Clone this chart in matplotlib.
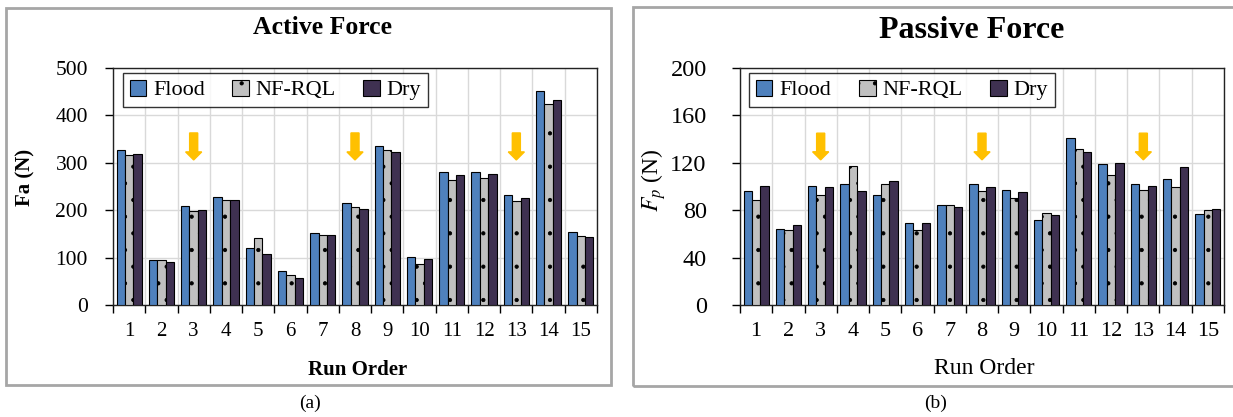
import matplotlib
matplotlib.use("Agg")
import matplotlib.pyplot as plt
from matplotlib.patches import Rectangle, FancyArrow
import numpy as np

plt.rcParams['font.family'] = ['Liberation Serif', 'DejaVu Serif']
plt.rcParams['mathtext.fontset'] = 'stix'
plt.rcParams['hatch.linewidth'] = 0.6

runs = [str(i) for i in range(1, 16)]
series_names = ['Flood', 'NF-RQL', 'Dry']

fa_flood = [326, 94, 209, 228, 120, 72, 152, 215, 335, 102, 281, 281, 233, 452, 153]
fa_nfrql = [316, 95, 198, 222, 141, 63, 148, 207, 326, 87, 263, 267, 219, 425, 146]
fa_dry   = [318, 91, 200, 222, 108, 56, 147, 203, 323, 97, 275, 276, 225, 433, 143]

fp_flood = [96.5, 64, 100.7, 102.4, 92.5, 69, 84.4, 102.4, 97, 71.7, 141, 119, 102.4, 106.6, 76.8]
fp_nfrql = [88.6, 63, 92.5, 117, 102, 63, 84.4, 96.5, 90.6, 77.6, 132, 109.4, 97, 99.3, 80.2]
fp_dry   = [100.7, 67.5, 99.6, 96, 104.6, 69.5, 83, 100, 95.4, 76, 129, 119.8, 100.7, 116.5, 80.7]

arrow_runs = [3, 8, 13]

W, H = 1233, 417
fig = plt.figure(figsize=(W / 100, H / 100), dpi=100)

def fx(px):
    return px / W

def fy(py):
    return 1 - py / H

# outer frames
fig.patches.append(Rectangle((fx(6), fy(385)), fx(605), (385 - 8) / H, transform=fig.transFigure,
                             fill=False, edgecolor='#A6A6A6', lw=2))
fig.patches.append(Rectangle((fx(633), fy(386)), fx(640), (386 - 7) / H, transform=fig.transFigure,
                             fill=False, edgecolor='#A6A6A6', lw=2))

colors = ['#4F81BD', '#C0C0C0', '#3F3151']
hatches = [None, '.', None]

def draw(ax, data, ymax, ystep, arrow_top, arrow_tip, head_len):
    x = np.arange(1, len(runs) + 1)
    bw = 0.26
    handles = []
    for k, (vals, name) in enumerate(zip(data, series_names)):
        b = ax.bar(x + (k - 1) * bw, vals, width=bw, color=colors[k], edgecolor='black',
                   linewidth=0.8, hatch=hatches[k], label=name, zorder=3)
        handles.append(b)
    ax.set_xlim(0.5, len(runs) + 0.5)
    ax.set_ylim(0, ymax)
    ax.set_yticks(np.arange(0, ymax + 1, ystep))
    ax.set_xticks(np.arange(0.5, len(runs) + 1, 1.0))
    ax.set_xticklabels([])
    ax.set_xticks(x, minor=True)
    ax.set_xticklabels(runs, minor=True)
    ax.tick_params(axis='x', which='major', length=6, width=1, direction='out')
    ax.tick_params(axis='x', which='minor', length=0, pad=12)
    ax.tick_params(axis='y', length=6, width=1, direction='out')
    ax.grid(True, which='major', color='#D9D9D9', lw=1, zorder=0)
    ax.set_axisbelow(True)
    for s in ax.spines.values():
        s.set_color('#222222')
        s.set_linewidth(1)
    for r in arrow_runs:
        ax.add_patch(FancyArrow(r, arrow_top, 0, arrow_tip - arrow_top, width=0.25,
                                head_width=0.5, head_length=head_len,
                                length_includes_head=True, color='#FFC000', zorder=4))
    return handles

# Left chart
ax1 = fig.add_axes([fx(113), fy(305), fx(484), 237 / H])
h1 = draw(ax1, [fa_flood, fa_nfrql, fa_dry], 500, 100, 363, 306, 17)
ax1.tick_params(axis='x', which='minor', labelsize=15)
ax1.tick_params(axis='y', labelsize=15.5, pad=12)
leg1 = ax1.legend(handles=h1, loc='lower left', bbox_to_anchor=(0.0207, 0.835, 0.63, 0.127),
                  mode='expand', ncol=3, fontsize=16, frameon=True, fancybox=False,
                  edgecolor='black', handlelength=0.75, handleheight=0.75, handletextpad=0.3,
                  borderaxespad=0, borderpad=0.3)
leg1.get_frame().set_linewidth(1)
leg1.set_zorder(5)

fig.text(fx(323), fy(27), 'Active Force', ha='center', va='center', fontsize=18.5, fontweight='bold')
fig.text(fx(358), fy(370), 'Run Order', ha='center', va='center', fontsize=15, fontweight='bold')
fig.text(fx(25), fy(177), 'Fa (N)', ha='center', va='center', fontsize=15, fontweight='bold', rotation=90)
fig.text(fx(310), fy(403), '(a)', ha='center', va='center', fontsize=14)

# Right chart
ax2 = fig.add_axes([fx(740), fy(305), fx(484), 237 / H])
h2 = draw(ax2, [fp_flood, fp_nfrql, fp_dry], 200, 40, 145, 122.5, 6.8)
ax2.tick_params(axis='x', which='minor', labelsize=16)
ax2.tick_params(axis='y', labelsize=17.5, pad=18)
leg2 = ax2.legend(handles=h2, loc='lower left', bbox_to_anchor=(0.0186, 0.835, 0.632, 0.127),
                  mode='expand', ncol=3, fontsize=16, frameon=True, fancybox=False,
                  edgecolor='black', handlelength=0.75, handleheight=0.75, handletextpad=0.3,
                  borderaxespad=0, borderpad=0.3)
leg2.get_frame().set_linewidth(1)
leg2.set_zorder(5)

fig.text(fx(972), fy(31), 'Passive Force', ha='center', va='center', fontsize=23, fontweight='bold')
fig.text(fx(984), fy(368), 'Run Order', ha='center', va='center', fontsize=17)
fig.text(fx(654), fy(180), r'$F_p$ (N)', ha='center', va='center', fontsize=17, rotation=90)
fig.text(fx(936), fy(403), '(b)', ha='center', va='center', fontsize=14)

fig.savefig('out.png', dpi=100)
